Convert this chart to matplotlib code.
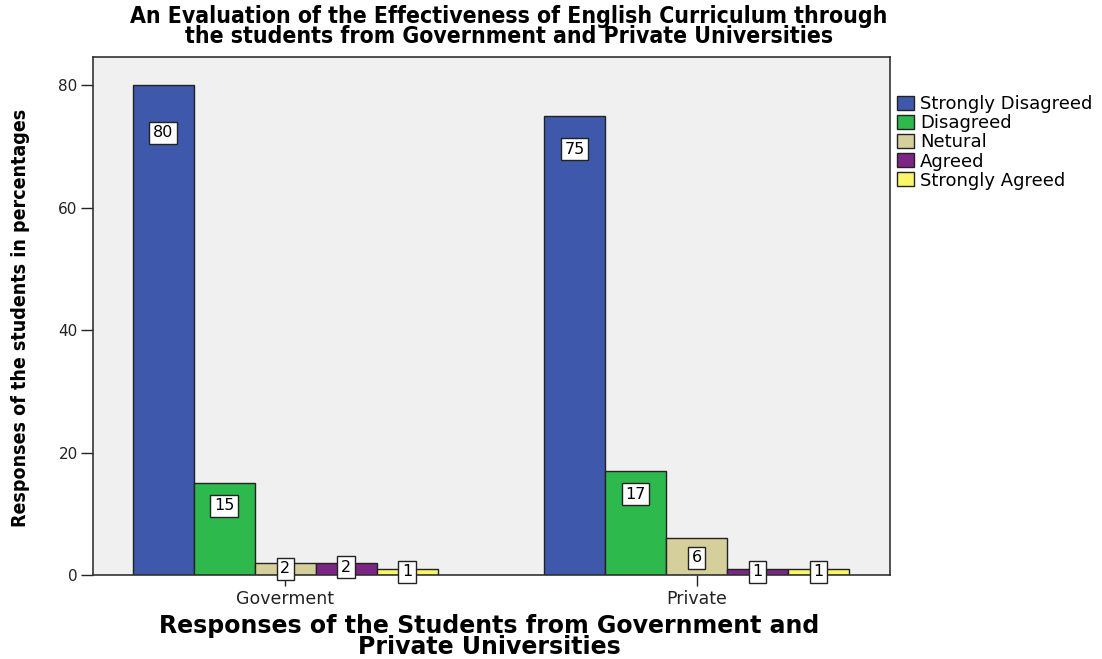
import matplotlib
matplotlib.use("Agg")
import matplotlib.pyplot as plt

groups = ["Goverment", "Private"]
responses = ["Strongly Disagreed", "Disagreed", "Netural", "Agreed", "Strongly Agreed"]
government = [80, 15, 2, 2, 1]
private = [75, 17, 6, 1, 1]
colors = ["#3E58AC", "#2EB94C", "#D5CF9B", "#7D2584", "#FBF56A"]
# how far below each bar top its value box sits (data units)
label_drop_gov = [7.8, 3.7, 1.0, 0.7, 0.5]
label_drop_priv = [5.5, 3.8, 3.2, 0.5, 0.5]

sans = "DejaVu Sans"

fig = plt.figure(figsize=(11.02, 6.59), dpi=100)
fig.patch.set_facecolor("white")
ax = fig.add_axes([0.0844, 0.1275, 0.7232, 0.786])
ax.set_facecolor("#F0F0F0")

width = 1.0
centers = [0.0, 6.75]
for gi, (vals, drops) in enumerate([(government, label_drop_gov), (private, label_drop_priv)]):
    for i, v in enumerate(vals):
        x = centers[gi] + (i - 2) * width
        ax.bar(x, v, width=width, color=colors[i], edgecolor="#222222", linewidth=1.0,
               label=responses[i] if gi == 0 else None, zorder=2)
        ax.text(x, v - drops[i], str(v), ha="center", va="center", fontsize=11.5,
                family=sans, zorder=4,
                bbox=dict(boxstyle="square,pad=0.22", facecolor="white", edgecolor="#222222", linewidth=1.0))

ax.set_xlim(-3.15, 9.92)
ax.set_ylim(0, 84.6)
ax.set_yticks([0, 20, 40, 60, 80])
ax.set_xticks(centers)
ax.set_xticklabels(groups)
ax.tick_params(axis="y", length=9, width=1, labelsize=11, pad=2, colors="#222222")
ax.tick_params(axis="x", length=8, width=1, labelsize=12.5, pad=3, colors="#222222")
for lbl in ax.get_xticklabels() + ax.get_yticklabels():
    lbl.set_family(sans)
for s in ax.spines.values():
    s.set_color("#333333")
    s.set_linewidth(1.2)

ax.set_ylabel("Responses of the students in percentages", family=sans, fontstretch="condensed",
              fontweight="bold", fontsize=14)
ax.yaxis.set_label_coords(-0.079, 0.497, transform=ax.transAxes)
ax.set_xlabel("Responses of the Students from Government and\nPrivate Universities", family=sans,
              fontweight="bold", fontsize=17, linespacing=0.85)
ax.xaxis.set_label_coords(0.497, -0.075, transform=ax.transAxes)
ax.xaxis.label.set_va("top")

fig.text(0.462, 0.992, "An Evaluation of the Effectiveness of English Curriculum through\n"
         "the students from Government and Private Universities",
         ha="center", va="top", family=sans, fontstretch="condensed", fontweight="bold",
         fontsize=16.5, linespacing=0.82)

leg = ax.legend(loc="upper left", bbox_to_anchor=(1.0, 0.94), frameon=False,
                prop={"family": sans, "size": 13}, handlelength=0.95, handleheight=0.8,
                handletextpad=0.3, labelspacing=0.06, borderaxespad=0.0)

fig.savefig("out.png", dpi=100)
